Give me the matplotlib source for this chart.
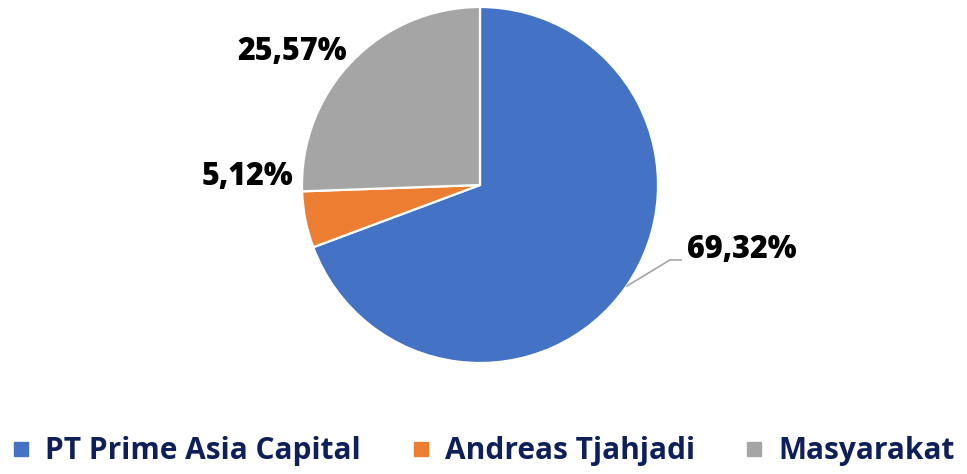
import numpy as np
import matplotlib
matplotlib.use("Agg")
import matplotlib.pyplot as plt
from matplotlib.lines import Line2D

categories = ["PT Prime Asia Capital", "Andreas Tjahjadi", "Masyarakat"]
values = [69.32, 5.12, 25.57]
labels = ["69,32%", "5,12%", "25,57%"]
colors = ["#4472C4", "#ED7D31", "#A5A5A5"]

FONT = ['Open Sans', 'DejaVu Sans']
plt.rcParams['font.family'] = FONT

W, H = 967, 474
fig = plt.figure(figsize=(W / 100, H / 100), dpi=100)
cx, cy, r = 480, 185, 178
ax = fig.add_axes([(cx - r) / W, (H - cy - r) / H, 2 * r / W, 2 * r / H])

wedges, _ = ax.pie(values, colors=colors, startangle=90, counterclock=False,
                   wedgeprops=dict(edgecolor="white", linewidth=1.6))
ax.set_xlim(-1, 1)
ax.set_ylim(-1, 1)
ax.set_aspect("equal")
ax.axis("off")

# label placement (radius factor, angle offset from wedge mid-angle)
total = sum(values)
cum = 0
label_pos = [(1.515, 20.8), (1.307, -13.2), (1.29, 0.0)]
for i, v in enumerate(values):
    mid = 90 - 360 * (cum + v / 2) / total
    cum += v
    rad, dang = label_pos[i]
    ang = mid + dang
    if i == 2:
        ang = 144.7
    lx, ly = rad * np.cos(np.radians(ang)), rad * np.sin(np.radians(ang))
    ax.text(lx, ly, labels[i], ha="center", va="center", fontsize=22,
            fontweight=800, color="black", clip_on=False)
    if i == 0:
        ex, ey = np.cos(np.radians(mid)), np.sin(np.radians(mid))
        ax.plot([ex, 1.067, 1.135], [ey, -0.421, -0.421], color="#A6A6A6",
                lw=1.2, clip_on=False, solid_capstyle="butt")

handles = [Line2D([], [], marker="s", linestyle="none", markersize=10,
                  markerfacecolor=c, markeredgecolor=c) for c in colors]
leg = fig.legend(handles, categories, loc="center", bbox_to_anchor=(0.5, 1 - 451 / H),
                 ncol=3, frameon=False, handlelength=0.6,
                 handletextpad=0.5, columnspacing=1.7,
                 prop=dict(family=FONT, weight="bold", size=21.5))
for t in leg.get_texts():
    t.set_color("#0F1F5A")

fig.savefig("out.png", dpi=100)
